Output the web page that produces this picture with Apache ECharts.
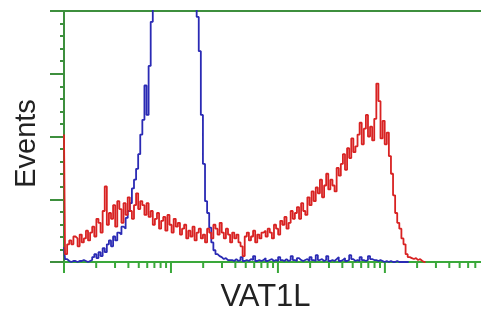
<!DOCTYPE html>
<html>
<head>
<meta charset="utf-8">
<script src="https://cdn.jsdelivr.net/npm/echarts@6/dist/echarts.min.js"></script>
<style>html,body{margin:0;padding:0;background:#fff}#c{width:481px;height:318px}</style>
</head>
<body>
<div id="c"></div>
<script>
// Histogram bins: 1024 channels over 4 decades (256 channels per decade), 5 channels per bin
var binWidth = 5;
var channelsPerDecade = 256;
var xVisibleMax = 998;   // the image is cropped just before channel 1024
var yMax = 256;
var yInterval = 64;
var decades = [0, 1, 2, 3];
var tickMultipliers = [1, 2, 3, 4, 5, 6, 7, 8, 9];
var xTitle = 'VAT1L';
var yTitle = 'Events';

// Sample (red) counts per bin
var redCounts = [
  130, 8, 18,
  22, 18, 26, 24, 16, 28, 20, 24, 32, 22,
  30, 36, 26, 44, 40, 30, 52, 77, 38,
  50, 44, 58, 36, 62, 54, 40, 60, 48, 66, 52, 44, 58,
  70, 54, 62, 58, 48, 60,
  46, 52, 38, 44, 50, 34, 42, 46, 32, 48, 38, 30, 44, 36, 40,
  28, 34, 38, 24, 32, 26, 36, 22, 30, 34, 24, 28, 20, 34, 30,
  24, 38, 34, 28, 40, 30, 24, 34, 28, 20,
  30, 24, 28, 20, 16, 6, 26, 30, 22, 26, 32, 20, 28, 24, 30,
  32, 26, 34, 30, 24, 38, 34, 28, 42, 38, 46, 34, 40, 52, 44,
  50, 56, 44, 60, 52, 48, 66, 58, 72, 62,
  76, 70, 84, 66, 78, 90, 74, 84, 78, 72,
  96, 88, 100, 110, 94, 116, 106, 126, 112, 118,
  130, 142, 120, 136, 150, 128, 138, 124, 146, 182,
  164, 126, 144, 120, 132, 108, 90, 68, 50, 40, 34, 24, 18, 8, 5,
  4, 3, 4, 2, 3, 1, 0, 0
];

// Control (blue) counts per bin
var blueCounts = [
  15, 3, 1, 0, 1, 1, 0, 1, 1, 2, 1, 0, 1, 2,
  5, 8, 4, 10, 6, 14, 10, 18, 22, 16, 26, 22, 30, 28, 36, 34,
  45, 52, 60, 75, 84, 95, 110, 130, 145, 180, 150, 200, 245, 290,
  330, 360, 390, 410, 430, 440, 450, 455, 450, 440, 430, 410, 390, 370, 350, 330, 310, 290, 275,
  280, 250, 215, 150, 100, 62, 50, 35, 20, 12, 8, 6, 5, 3, 4, 2, 2,
  2, 1, 3, 1, 2, 5, 1, 2, 1, 3, 2, 6, 1, 2, 1, 2, 4, 1, 2, 3,
  1, 2, 1, 5, 2, 1, 3, 1, 2, 6, 2, 1, 4, 2, 1, 2, 3, 1, 5, 2,
  1, 7, 2, 3, 1, 2, 6, 1, 2, 1, 3, 5, 1, 2, 4, 1, 2, 7, 3, 1,
  2, 1, 5, 2, 1, 2, 6, 3, 2, 2, 1, 2, 1, 0, 1, 0, 1, 0, 0, 1,
  0, 0, 0, 0, 0, 0
];

function toPairs(arr) {
  return arr.map(function (v, i) { return [i * binWidth, v]; });
}

// log-decade tick positions (major at each decade, minor at 2..9)
var tickData = [];
decades.forEach(function (d) {
  tickMultipliers.forEach(function (m) {
    var ch = (d + Math.log10(m)) * channelsPerDecade;
    if (ch <= xVisibleMax) tickData.push([ch, m === 1 ? 1 : 0]);
  });
});

var axisGreen = '#3d8f3d';
var bottomGreen = '#3aa83a';
var fontFam = 'Liberation Sans, Arial, sans-serif';

var chart = echarts.init(document.getElementById('c'), null, {renderer: 'canvas'});
chart.setOption({
  animation: false,
  backgroundColor: '#ffffff',
  grid: {left: 64, top: 11, right: 0, bottom: 51, containLabel: false},
  xAxis: [{
    type: 'value', min: 0, max: xVisibleMax,
    position: 'bottom',
    axisLine: {show: true, lineStyle: {color: bottomGreen, width: 2}},
    axisTick: {show: false}, axisLabel: {show: false}, splitLine: {show: false},
    name: xTitle, nameLocation: 'middle', nameGap: 20,
    nameTextStyle: {fontFamily: fontFam, fontSize: 31, color: '#222', padding: [0, 14, 0, 0]}
  }, {
    type: 'value', min: 0, max: xVisibleMax,
    position: 'top',
    axisLine: {show: true, lineStyle: {color: axisGreen, width: 2}},
    axisTick: {show: false}, axisLabel: {show: false}, splitLine: {show: false}
  }],
  yAxis: {
    type: 'value', min: 0, max: yMax, interval: yInterval,
    axisLine: {show: true, lineStyle: {color: axisGreen, width: 2}},
    axisTick: {show: true, length: 14, lineStyle: {color: axisGreen, width: 2}},
    minorTick: {show: true, splitNumber: 5, length: 4, lineStyle: {color: axisGreen, width: 2}},
    axisLabel: {show: false}, splitLine: {show: false},
    name: yTitle, nameLocation: 'middle', nameGap: 23,
    nameTextStyle: {fontFamily: fontFam, fontSize: 29, color: '#222', padding: [0, 14, 0, 0]}
  },
  series: [{
    type: 'line', name: 'control', data: toPairs(blueCounts), step: 'middle',
    showSymbol: false, symbol: 'none', clip: true,
    lineStyle: {color: '#2a2ab4', width: 1.8}
  }, {
    type: 'line', name: 'sample', data: toPairs(redCounts), step: 'middle',
    showSymbol: false, symbol: 'none', clip: true,
    lineStyle: {color: '#d82222', width: 1.8}
  }, {
    type: 'custom', name: 'xticks', data: tickData, clip: false, silent: true,
    renderItem: function (params, api) {
      var p = api.coord([api.value(0), 0]);
      var len = api.value(1) === 1 ? 11 : 6;
      return {type: 'line', shape: {x1: p[0], y1: p[1], x2: p[0], y2: p[1] + len},
        style: {stroke: bottomGreen, lineWidth: 2}};
    }
  }]
});
</script>
</body>
</html>
